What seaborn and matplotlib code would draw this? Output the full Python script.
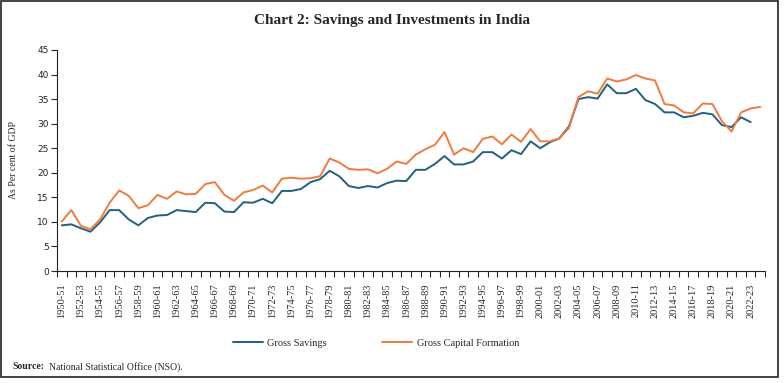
import matplotlib
matplotlib.use("Agg")
import matplotlib.pyplot as plt
import seaborn as sns
from matplotlib.patches import Rectangle

# fiscal years 1950-51 .. 2023-24
years = [f"{y}-{str(y + 1)[-2:]}" for y in range(1950, 2024)]

gross_savings = [
    9.3, 9.5, 8.7, 8.0, 9.9, 12.4, 12.4, 10.5, 9.3, 10.8,
    11.3, 11.4, 12.4, 12.2, 12.0, 13.9, 13.8, 12.1, 12.0, 14.0,
    13.9, 14.7, 13.8, 16.3, 16.3, 16.7, 18.1, 18.7, 20.4, 19.3,
    17.3, 16.9, 17.3, 17.0, 17.9, 18.4, 18.3, 20.6, 20.6, 21.8,
    23.4, 21.7, 21.7, 22.3, 24.2, 24.2, 22.9, 24.6, 23.8, 26.4,
    25.0, 26.2, 27.0, 29.4, 35.0, 35.4, 35.1, 38.0, 36.2, 36.2,
    37.1, 34.8, 34.0, 32.3, 32.3, 31.3, 31.6, 32.2, 31.9, 29.7,
    29.3, 31.3, 30.3,
]

gross_capital_formation = [
    10.1, 12.4, 9.2, 8.5, 10.5, 13.9, 16.4, 15.3, 12.8, 13.4,
    15.5, 14.7, 16.2, 15.6, 15.7, 17.7, 18.1, 15.5, 14.3, 16.0,
    16.5, 17.4, 16.0, 18.8, 19.0, 18.8, 18.9, 19.3, 22.9, 22.1,
    20.8, 20.6, 20.7, 19.9, 20.8, 22.3, 21.8, 23.7, 24.8, 25.7,
    28.3, 23.7, 25.0, 24.2, 26.9, 27.4, 25.8, 27.8, 26.3, 28.9,
    26.4, 26.4, 27.0, 29.1, 35.4, 36.6, 36.1, 39.2, 38.6, 39.0,
    39.9, 39.2, 38.8, 34.0, 33.7, 32.3, 32.1, 34.1, 34.0, 30.5,
    28.4, 32.3, 33.1, 33.4,
]

blue = "#23607f"
orange = "#f07b3f"
serif = "Liberation Serif"

sns.set_style("ticks")
plt.rcParams["font.family"] = ["DejaVu Sans"]

fig = plt.figure(figsize=(7.84, 3.83), dpi=100)
ax = fig.add_axes([0.0727, 0.2924, 0.9031, 0.5771])

sns.lineplot(x=years[:len(gross_savings)], y=gross_savings, color=blue,
             linewidth=1.4, label="Gross Savings", ax=ax)
sns.lineplot(x=years, y=gross_capital_formation, color=orange,
             linewidth=1.4, label="Gross Capital Formation", ax=ax)

ax.set_xlim(-0.5, len(years) - 0.5)
ax.set_ylim(0, 45)
ax.set_yticks(range(0, 46, 5))
ax.tick_params(axis="y", labelsize=6.5, length=4, width=0.8, pad=2,
               labelcolor="#222222")

# labels on every other year, tick marks between categories
ax.set_xticks(range(0, len(years), 2))
ax.set_xticklabels(years[::2], rotation=90, fontfamily=serif, fontsize=7.5)
ax.set_xticks([i - 0.5 for i in range(len(years) + 1)], minor=True)
ax.tick_params(axis="x", which="major", length=0, pad=9)
ax.tick_params(axis="x", which="minor", length=4, width=0.8)

ax.set_xlabel("")
ax.set_ylabel("As Per cent of GDP", fontfamily=serif, fontsize=7, labelpad=14)
for side in ["top", "right"]:
    ax.spines[side].set_visible(False)
for side in ["left", "bottom"]:
    ax.spines[side].set_linewidth(0.8)
    ax.spines[side].set_color("#222222")

ax.legend(loc="center", bbox_to_anchor=(376 / 784, 0.104),
          bbox_transform=fig.transFigure, ncol=2, frameon=False,
          prop={"family": serif, "size": 7.5}, handlelength=2.9,
          handletextpad=0.4, columnspacing=5.3)

fig.text(0.5, 0.946, "Chart 2: Savings and Investments in India",
         ha="center", va="center", fontfamily=serif, fontweight="bold",
         fontsize=11)
fig.text(0.0153, 0.042, "Source:", ha="left", va="center",
         fontfamily=serif, fontweight="bold", fontsize=7)
fig.text(0.0153 + 0.047, 0.042, "National Statistical Office (NSO).",
         ha="left", va="center", fontfamily=serif, fontsize=7)

fig.add_artist(Rectangle((1 / 784, 1 - 377 / 383), 777 / 784, 376 / 383,
                         transform=fig.transFigure, fill=False,
                         edgecolor="#222222", linewidth=1.2))

fig.savefig("out.png", dpi=100)
